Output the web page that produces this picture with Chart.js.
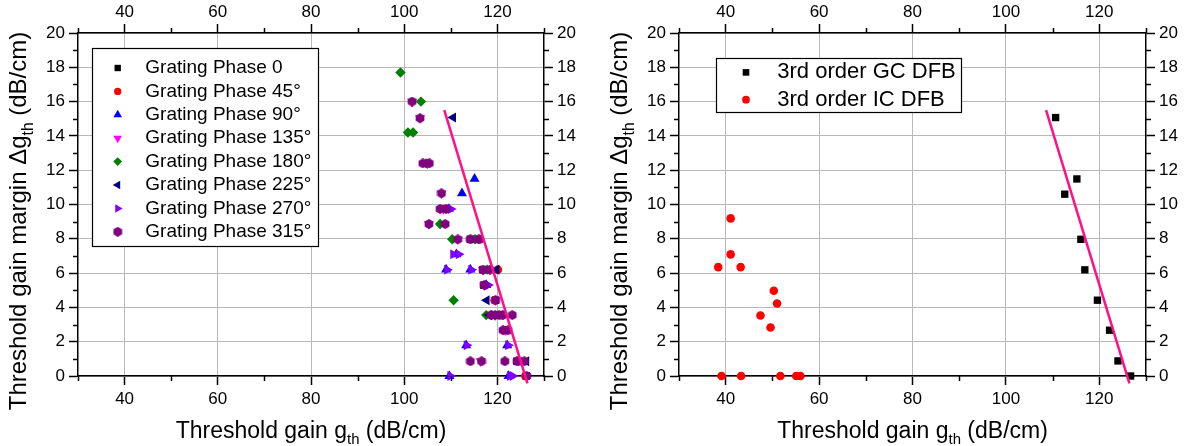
<!DOCTYPE html>
<html><head><meta charset="utf-8">
<script src="https://cdn.jsdelivr.net/npm/chart.js@4.4.1/dist/chart.umd.min.js"></script>
<style>
html,body{margin:0;padding:0;background:#fff;}
#wrap{position:relative;width:1187px;height:446px;overflow:hidden;}
#c1{position:absolute;left:0;top:0;}
#c2{position:absolute;left:593px;top:0;}
</style></head><body>
<div id="wrap"><canvas id="c1" width="593" height="446"></canvas><canvas id="c2" width="594" height="446"></canvas></div>
<script>
// ---------- DATA ----------
const xTickValues = [40, 60, 80, 100, 120];
const yTickValues = [0, 2, 4, 6, 8, 10, 12, 14, 16, 18, 20];
const xMinorValues = [30, 50, 70, 90, 110, 130];
const yMinorValues = [1, 3, 5, 7, 9, 11, 13, 15, 17, 19];
// axis titles: [text, isSubscript]
const xTitleParts = [['Threshold gain g', false], ['th', true], [' (dB/cm)', false]];
const yTitleParts = [['Threshold gain margin Δg', false], ['th', true], [' (dB/cm)', false]];

const phaseLabels = ['Grating Phase 0', 'Grating Phase 45°', 'Grating Phase 90°', 'Grating Phase 135°',
  'Grating Phase 180°', 'Grating Phase 225°', 'Grating Phase 270°', 'Grating Phase 315°'];

const phase0 = [[116.0,7.97],[116.9,6.2],[119.6,4.42],[120.2,3.55],[122.0,2.67],[124.2,0.86],[126.2,0],[114.2,7.97],[117.1,5.3]];
const phase45 = [[120.1,6.2],[119.4,4.42],[121.0,3.55],[121.6,2.67],[125.0,0.86],[126.0,0],[116.2,7.97],[108.5,9.74],[105.0,12.4]];
const phase90 = [[115.1,11.5],[112.4,10.65],[109.0,6.2],[114.2,6.2],[111.2,7.1],[113.3,1.79],[122.1,1.79],[109.7,0],[122.4,0],[109.6,9.74],[117.6,5.3]];
const phase135 = [[101.7,16.0],[103.4,15.03],[105.0,12.4],[108.0,10.65],[108.4,9.74],[105.3,8.86],[111.5,7.97],[116.9,6.2],[117.2,5.3],[119.6,4.42],[119.5,3.55],[121.8,2.67],[116.4,0.86],[125.3,0.86]];
const phase180 = [[99.2,17.7],[103.6,16.0],[100.8,14.2],[101.9,14.2],[104.7,12.4],[107.7,8.86],[110.3,7.97],[115.2,7.97],[117.8,6.2],[110.6,4.42],[117.6,3.55]];
const phase225 = [[110.5,15.07],[119.8,6.2],[117.7,4.42],[118.3,3.55],[126.2,0.86]];
const phase270 = [[110.0,9.74],[110.5,7.1],[111.7,7.1],[109.2,6.2],[114.4,6.2],[118.0,5.3],[113.4,1.79],[122.3,1.79],[109.9,0],[122.7,0],[123.3,0],[125.0,0.86]];
const phase315 = [[101.7,16.0],[103.4,15.03],[104.0,12.4],[105.4,12.4],[108.0,10.65],[107.7,9.74],[109.0,9.74],[105.3,8.86],[108.8,8.86],[111.5,7.97],[114.2,7.97],[116.0,7.97],[116.9,6.2],[118.4,6.2],[117.2,5.3],[119.6,4.42],[118.6,3.55],[119.5,3.55],[120.4,3.55],[121.2,3.55],[123.2,3.55],[121.2,2.67],[122.3,2.67],[114.2,0.86],[116.6,0.86],[121.6,0.86],[124.2,0.86],[125.8,0.86],[126.3,0]];

const dfbLabels = ['3rd order GC DFB', '3rd order IC DFB'];
const gcDfb = [[110.65,15.07],[115.2,11.49],[112.6,10.6],[116.05,7.97],[116.9,6.19],[119.6,4.42],[122.2,2.67],[124.0,0.88],[126.7,0]];
const icDfb = [[41.06,9.19],[41.06,7.09],[38.4,6.35],[43.2,6.35],[50.3,4.97],[51.0,4.23],[47.45,3.53],[49.6,2.83],[39.1,0],[43.3,0],[51.7,0],[55.1,0],[56.0,0]];

const fitLine = [[108.6,15.5],[126.45,-0.43]];

// ---------- STYLE ----------
const FONT = '"Liberation Sans", Arial, sans-serif';
Chart.defaults.font.family = FONT;
Chart.defaults.color = '#000';

function hexImg(size, color) {
  const c = document.createElement('canvas');
  c.width = c.height = size;
  const g = c.getContext('2d');
  g.fillStyle = color;
  g.beginPath();
  const r = size / 2;
  for (let i = 0; i < 6; i++) {
    const a = -Math.PI / 2 + i * Math.PI / 3;
    const px = r + r * Math.cos(a), py = r + r * Math.sin(a);
    if (i === 0) g.moveTo(px, py); else g.lineTo(px, py);
  }
  g.closePath(); g.fill();
  return c;
}
const hexData = hexImg(10, '#800080');

const phaseStyles = [
  {color:'#000000', style:'rect', rot:0, r:5.3},
  {color:'#ff0000', style:'circle', rot:0, r:4.3},
  {color:'#0000ff', style:'triangle', rot:0, r:5.8},
  {color:'#ff00ff', style:'triangle', rot:180, r:5.8},
  {color:'#008000', style:'rectRot', rot:0, r:5.2},
  {color:'#000080', style:'triangle', rot:-90, r:5.8},
  {color:'#8000ff', style:'triangle', rot:90, r:5.8},
  {color:'#800080', style:hexData, rot:0, r:5}
];

const toPts = arr => arr.map(p => ({x: p[0], y: p[1]}));

function fitDataset() {
  return {label:'', data: toPts(fitLine), showLine:true, pointRadius:0, borderColor:'#ff1088',
    backgroundColor:'#ff1088', borderWidth:2.5, clip:false, order:0, legendHidden:true};
}

function scatterDs(label, pts, st, order) {
  return {label, data: toPts(pts), pointStyle: st.style, pointRotation: st.rot, pointRadius: st.r,
    backgroundColor: st.color, borderColor: st.color, pointBorderWidth: 0, showLine:false, clip:false, order};
}

// ---------- PLUGINS ----------
const minorTicks = {
  id: 'minorTicks',
  afterDraw(chart) {
    const ctx = chart.ctx;
    ctx.save();
    ctx.strokeStyle = '#000'; ctx.lineWidth = 1.5;
    for (const s of Object.values(chart.scales)) {
      ctx.beginPath();
      if (s.isHorizontal()) {
        for (const v of xMinorValues) {
          const px = Math.round(s.getPixelForValue(v)) + 0.5;
          if (s.position === 'bottom') { ctx.moveTo(px, s.top); ctx.lineTo(px, s.top + 5); }
          else { ctx.moveTo(px, s.bottom); ctx.lineTo(px, s.bottom - 5); }
        }
      } else {
        for (const v of yMinorValues) {
          const py = Math.round(s.getPixelForValue(v)) + 0.5;
          if (s.position === 'left') { ctx.moveTo(s.right, py); ctx.lineTo(s.right - 5, py); }
          else { ctx.moveTo(s.left, py); ctx.lineTo(s.left + 5, py); }
        }
      }
      ctx.stroke();
    }
    ctx.restore();
  }
};

function drawRich(ctx, parts, cx, baseY, rotation, size) {
  const subSize = size * 0.65;
  const widths = parts.map(([t, sub]) => { ctx.font = (sub ? subSize : size) + 'px ' + FONT; return ctx.measureText(t).width; });
  const total = widths.reduce((a, b) => a + b, 0);
  ctx.save();
  ctx.translate(cx, baseY);
  ctx.rotate(rotation);
  ctx.fillStyle = '#000'; ctx.textAlign = 'left'; ctx.textBaseline = 'alphabetic';
  let x = -total / 2;
  parts.forEach(([t, sub], i) => {
    ctx.font = (sub ? subSize : size) + 'px ' + FONT;
    ctx.fillText(t, x, sub ? size * 0.3 : 0);
    x += widths[i];
  });
  ctx.restore();
}

const axisTitles = {
  id: 'axisTitles',
  afterDraw(chart, args, o) {
    const ca = chart.chartArea, ctx = chart.ctx;
    drawRich(ctx, xTitleParts, (ca.left + ca.right) / 2, ca.bottom + o.xBaseOffset, 0, o.xSize);
    // rotated: local x runs upward, local baseline sits at screen x
    ctx.save();
    drawRich(ctx, yTitleParts, ca.left - o.yBaseOffset, ca.top + o.yCenterOffset, -Math.PI / 2, o.ySize);
    ctx.restore();
  }
};

const boxLegend = {
  id: 'boxLegend',
  afterDraw(chart, args, o) {
    const ca = chart.chartArea, ctx = chart.ctx;
    const x0 = Math.round(ca.left + o.dx), y0 = Math.round(ca.top + o.dy);
    ctx.save();
    ctx.fillStyle = '#fff'; ctx.fillRect(x0, y0, o.w, o.h);
    ctx.strokeStyle = '#000'; ctx.lineWidth = 1.2; ctx.strokeRect(x0 + 0.5, y0 + 0.5, o.w, o.h);
    ctx.font = o.fontSize + 'px ' + FONT; ctx.textBaseline = 'middle'; ctx.textAlign = 'left';
    let row = 0;
    chart.data.datasets.forEach(ds => {
      if (ds.legendHidden) return;
      const y = y0 + o.firstRow + row * o.rowH;
      ctx.fillStyle = ds.backgroundColor; ctx.strokeStyle = ds.borderColor;
      Chart.helpers.drawPoint(ctx, {pointStyle: ds.pointStyle, rotation: ds.pointRotation || 0,
        radius: ds.pointRadius * o.markerScale, borderWidth: 0}, x0 + o.markerX, y);
      ctx.fillStyle = '#000';
      ctx.fillText(ds.label, x0 + o.textX, y);
      row++;
    });
    ctx.restore();
  }
};

function xAxis(pos) {
  return {
    type:'linear', position:pos, min:30, max:130,
    afterBuildTicks: s => { s.ticks = xTickValues.map(v => ({value: v})); },
    afterFit: s => { s.height = pos === 'bottom' ? 70 : 33; },
    ticks:{ color:'#000', font:{size:17}, padding: pos === 'bottom' ? 4 : 1, autoSkip:false, maxRotation:0 },
    grid:{ drawOnChartArea: pos === 'bottom', color:'#b8b8b8', lineWidth:1, tickColor:'#000', tickLength:9, tickWidth:1.5 },
    border:{ display:true, color:'#000', width:1.5 },
    title:{ display:false }
  };
}
function yAxis(pos, width) {
  return {
    type:'linear', position:pos, min:0, max:20,
    afterBuildTicks: s => { s.ticks = yTickValues.map(v => ({value: v})); },
    afterFit: s => { s.width = width; },
    ticks:{ color:'#000', font:{size:17}, padding:4, autoSkip:false },
    grid:{ drawOnChartArea: pos === 'left', color:'#b8b8b8', lineWidth:1, tickColor:'#000', tickLength:9, tickWidth:1.5 },
    border:{ display:true, color:'#000', width:1.5 },
    title:{ display:false }
  };
}

function makeChart(canvas, datasets, leftW, rightW, legendOpts) {
  return new Chart(canvas, {
    type:'scatter',
    data:{ datasets },
    options:{
      responsive:false, animation:false, events:[],
      layout:{ padding:0 },
      scales:{ x: xAxis('bottom'), x2: xAxis('top'), y: yAxis('left', leftW), y2: yAxis('right', rightW) },
      plugins:{ legend:{display:false}, tooltip:{enabled:false}, boxLegend: legendOpts,
        axisTitles:{ xBaseOffset:61.5, xSize:23, yBaseOffset:52.5, yCenterOffset:188, ySize:24 } }
    },
    plugins:[minorTicks, boxLegend, axisTitles]
  });
}

// ---------- LEFT PANEL ----------
const phaseData = [phase0, phase45, phase90, phase135, phase180, phase225, phase270, phase315];
const leftSets = phaseData.map((d, i) => scatterDs(phaseLabels[i], d, phaseStyles[i], 9 - i));
leftSets.push(fitDataset());
makeChart(document.getElementById('c1'), leftSets, 78, 49,
  {dx:13.5, dy:15, w:226, h:198, firstRow:20, rowH:23.4, markerX:25.7, textX:53.3, fontSize:19, markerScale:0.85});

// ---------- RIGHT PANEL ----------
const rightSets = [
  scatterDs(dfbLabels[0], gcDfb, {color:'#000000', style:'rect', rot:0, r:5.2}, 3),
  scatterDs(dfbLabels[1], icDfb, {color:'#ff0000', style:'circle', rot:0, r:4.3}, 2),
  fitDataset()
];
makeChart(document.getElementById('c2'), rightSets, 86, 41,
  {dx:37, dy:25, w:245, h:54, firstRow:14.4, rowH:27.3, markerX:30, textX:61.3, fontSize:22, markerScale:0.9});
</script>
</body></html>
